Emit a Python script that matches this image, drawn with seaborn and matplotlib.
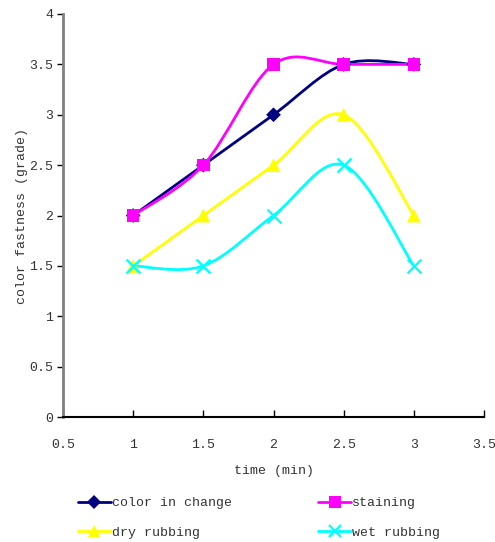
import numpy as np
import pandas as pd
import matplotlib
matplotlib.use('Agg')
import matplotlib.pyplot as plt
from matplotlib.path import Path
from matplotlib.patches import PathPatch
from matplotlib.lines import Line2D
import seaborn as sns

sns.set_style('white')
plt.rcParams['font.family'] = ['Liberation Mono', 'DejaVu Sans']

# data
time_min = [1, 1.5, 2, 2.5, 3]
color_in_change = [2, 2.5, 3, 3.5, 3.5]
staining = [2, 2.5, 3.5, 3.5, 3.5]
dry_rubbing = [1.5, 2, 2.5, 3, 2]
wet_rubbing = [1.5, 1.5, 2, 2.5, 1.5]

series_names = ['color in change', 'staining', 'dry rubbing', 'wet rubbing']
series_vals = [color_in_change, staining, dry_rubbing, wet_rubbing]
colors = ['#000080', '#FF00FF', '#FFFF00', '#00FFFF']
markers = ['D', 's', '^', 'x']
msizes = [7.5, 9, 10, 10]

df = pd.DataFrame({
    'time': time_min * 4,
    'grade': sum(series_vals, []),
    'series': sum([[n] * len(time_min) for n in series_names], []),
})


def smooth_path(x, y):
    # excel-like smoothed line: bezier segments, catmull-rom control points
    p = np.column_stack([x, y]).astype(float)
    p = np.vstack([p[0], p, p[-1]])
    verts = [p[1]]
    codes = [Path.MOVETO]
    for i in range(1, len(p) - 2):
        c1 = p[i] + (p[i + 1] - p[i - 1]) / 6
        c2 = p[i + 1] - (p[i + 2] - p[i]) / 6
        verts += [c1, c2, p[i + 1]]
        codes += [Path.CURVE4] * 3
    return Path(verts, codes)


fig = plt.figure(figsize=(4.95, 5.42), dpi=100)
ax = fig.add_axes([63 / 495, 1 - 417 / 542, (484 - 63) / 495, (417 - 14) / 542])

for name, vals, c in zip(series_names, series_vals, colors):
    ax.add_patch(PathPatch(smooth_path(time_min, vals), fill=False,
                           edgecolor=c, lw=2, zorder=2))

for name, c, m, ms in zip(series_names, colors, markers, msizes):
    sub = df[df['series'] == name]
    sns.scatterplot(data=sub, x='time', y='grade', color=c, marker=m,
                    s=ms ** 2, linewidth=1.6 if m == 'x' else 0,
                    edgecolor=c if m == 'x' else 'none', ax=ax, zorder=3, legend=False)

ax.set_xlim(0.5, 3.5)
ax.set_ylim(0, 4)
ax.set_xticks(np.arange(0.5, 3.51, 0.5))
ax.set_yticks(np.arange(0, 4.01, 0.5))
ax.set_xticklabels(['0.5', '1', '1.5', '2', '2.5', '3', '3.5'])
ax.set_yticklabels(['0', '0.5', '1', '1.5', '2', '2.5', '3', '3.5', '4'])

for s in ['top', 'right']:
    ax.spines[s].set_visible(False)
ax.spines['left'].set_color('#808080')
ax.spines['left'].set_linewidth(2)
ax.spines['bottom'].set_color('black')
ax.spines['bottom'].set_linewidth(1.5)
ax.tick_params(axis='y', direction='out', length=4, width=1, color='black',
               labelsize=9.5, labelcolor='#333333', pad=3, left=True)
ax.tick_params(axis='x', direction='in', length=5, width=1, color='black',
               labelsize=9.5, labelcolor='#333333', pad=16, bottom=True)

ax.set_xlabel('time (min)', fontsize=9.5, color='#333333', labelpad=10)
ax.set_ylabel('color fastness (grade)', fontsize=9.5, color='#333333', labelpad=1)

# legend rows: color in change / staining, dry rubbing / wet rubbing
order = [0, 2, 1, 3]
handles = [Line2D([0], [0], color=colors[i], lw=2, marker=markers[i],
                  markersize=msizes[i] * 0.9,
                  markeredgewidth=1.6 if markers[i] == 'x' else 0,
                  markeredgecolor=colors[i]) for i in order]
fig.legend(handles, [series_names[i] for i in order], loc='upper left', ncol=2,
           bbox_to_anchor=(78 / 495, 1 - 497 / 542), frameon=False,
           fontsize=9.5, handlelength=2.5, handletextpad=0.1,
           columnspacing=6.5, labelspacing=1.3, borderpad=0, borderaxespad=0,
           labelcolor='#333333')

fig.savefig('out.png', dpi=100)
